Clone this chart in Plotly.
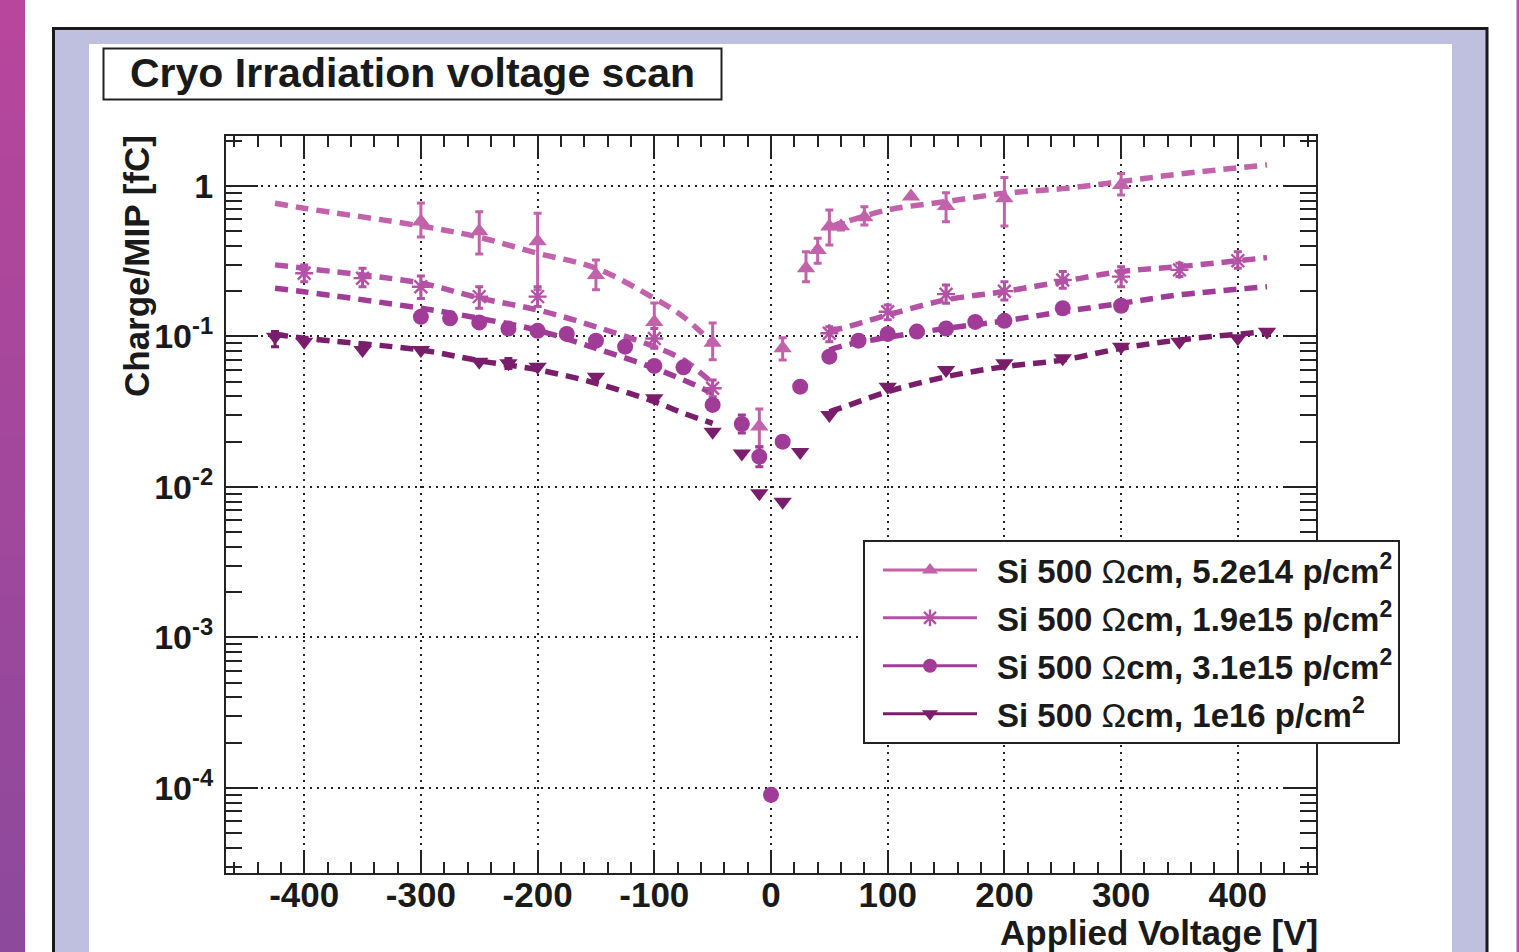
import plotly.graph_objects as go

# ---------------- data ----------------
OMEGA = '<span style="font-weight:normal">\u03a9</span>'
names = ["Si 500 %scm, 5.2e14 p/cm<sup>2</sup>" % OMEGA,
         "Si 500 %scm, 1.9e15 p/cm<sup>2</sup>" % OMEGA,
         "Si 500 %scm, 3.1e15 p/cm<sup>2</sup>" % OMEGA,
         "Si 500 %scm, 1e16 p/cm<sup>2</sup>" % OMEGA]
colors = ["#c262aa", "#b452a6", "#a03c98", "#7a1d6b"]
symbols = ["triangle-up", "asterisk-open", "circle", "triangle-down"]

x1 = [-300, -250, -200, -150, -100, -50, -10, 10, 30, 40, 50, 60, 80, 120, 150, 200, 300]
y1 = [0.58, 0.50, 0.43, 0.256, 0.125, 0.091, 0.0252, 0.0834, 0.284, 0.376, 0.537, 0.54, 0.62, 0.85, 0.736, 0.83, 1.015]
e1p = [0.19, 0.175, 0.229, 0.066, 0.042, 0.032, 0.0078, 0.0146, 0.082, 0.074, 0.156, 0.03, 0.108, 0.0, 0.167, 0.31, 0.195]
e1m = [0.122, 0.147, 0.226, 0.052, 0.0395, 0.021, 0.0068, 0.0136, 0.053, 0.069, 0.131, 0.03, 0.069, 0.0, 0.157, 0.288, 0.144]

x2 = [-400, -350, -300, -250, -200, -100, -50, 50, 100, 150, 200, 250, 300, 350, 400]
y2 = [0.263, 0.244, 0.214, 0.184, 0.184, 0.097, 0.0453, 0.105, 0.146, 0.191, 0.200, 0.237, 0.250, 0.277, 0.319]
e2p = [0.036, 0.040, 0.038, 0.030, 0.030, 0.016, 0.0061, 0.011, 0.016, 0.029, 0.031, 0.033, 0.041, 0.029, 0.047]
e2m = [0.032, 0.030, 0.035, 0.030, 0.026, 0.0136, 0.0055, 0.0127, 0.017, 0.025, 0.025, 0.028, 0.036, 0.027, 0.035]

x3 = [-300, -275, -250, -225, -200, -175, -150, -125, -100, -75, -50, -25, -10, 0, 10, 25,
      50, 75, 100, 125, 150, 175, 200, 250, 300]
y3 = [0.135, 0.132, 0.124, 0.113, 0.109, 0.104, 0.0938, 0.0856, 0.0637, 0.0624, 0.0351, 0.0262, 0.0159, 9e-5, 0.020, 0.0464,
      0.0734, 0.0938, 0.104, 0.1077, 0.113, 0.125, 0.127, 0.154, 0.160]
e3p = [0.01, 0, 0, 0.006, 0, 0, 0.006, 0, 0, 0, 0, 0.0039, 0.0026, 0, 0, 0,
       0, 0, 0, 0, 0, 0, 0, 0, 0]
e3m = [0.0, 0, 0, 0.005, 0, 0, 0.005, 0, 0, 0, 0, 0.0034, 0.0023, 0, 0, 0,
       0, 0, 0, 0, 0, 0, 0, 0, 0]

x4 = [-425, -400, -350, -300, -250, -225, -200, -150, -100, -50, -25, -10, 10, 25,
      50, 100, 150, 200, 250, 300, 350, 400, 425]
y4 = [0.0997, 0.0923, 0.0813, 0.0813, 0.068, 0.0663, 0.063, 0.054, 0.0388, 0.0233, 0.0167, 0.00908, 0.00798, 0.0171,
      0.0301, 0.0464, 0.0599, 0.0664, 0.0716, 0.0855, 0.0923, 0.0973, 0.1076]
e4p = [0.008, 0, 0, 0, 0, 0.005, 0, 0, 0, 0, 0, 0, 0, 0,
       0, 0, 0, 0, 0, 0, 0, 0, 0]
e4m = [0.0142, 0, 0, 0, 0, 0.005, 0, 0, 0, 0, 0, 0, 0, 0,
       0, 0, 0, 0, 0, 0, 0, 0, 0]

# fitted curves
fit_xL = [-425, -400, -300, -250, -200, -150, -100, -75, -50]
fit_xR = [50, 60, 100, 150, 200, 250, 300, 350, 425]
fit1L = [0.767, 0.711, 0.542, 0.456, 0.357, 0.284, 0.179, 0.135, 0.090]
fit1R = [0.537, 0.565, 0.693, 0.787, 0.894, 0.96, 1.07, 1.2, 1.38]
fit2L = [0.299, 0.284, 0.226, 0.180, 0.150, 0.116, 0.0855, 0.0698, 0.0489]
fit2R = [0.110, 0.113, 0.139, 0.175, 0.199, 0.232, 0.27, 0.291, 0.334]
fit3L = [0.209, 0.198, 0.154, 0.132, 0.110, 0.0834, 0.0615, 0.0514, 0.042]
fit3R = [0.0813, 0.086, 0.0988, 0.113, 0.127, 0.146, 0.166, 0.189, 0.214]
fit4L = [0.1035, 0.0973, 0.0813, 0.0690, 0.0601, 0.0489, 0.0369, 0.0309, 0.0265]
fit4R = [0.0316, 0.0335, 0.043, 0.054, 0.063, 0.0698, 0.0834, 0.0948, 0.1076]

x_tickvals = [-400, -300, -200, -100, 0, 100, 200, 300, 400]
x_ticktext = ["-400", "-300", "-200", "-100", "0", "100", "200", "300", "400"]
y_tickvals = [1e-4, 1e-3, 1e-2, 1e-1, 1]
y_ticktext = ["10<sup>-4</sup>", "10<sup>-3</sup>", "10<sup>-2</sup>", "10<sup>-1</sup>", "1"]

title_text = "Cryo Irradiation voltage scan"
x_title = "Applied Voltage [V]"
y_title = "Charge/MIP [fC]"

# ---------------- figure ----------------
W, H = 1520, 952
L, R, T, B = 226, 204, 136, 79
PW, PH = W - L - R, H - T - B


def px(p):
    return (p - L) / PW


def py(p):
    return (H - B - p) / PH


FONT = "Liberation Sans, Arial, sans-serif"
TXT = "#1a1a1a"

fig = go.Figure()

series = [
    (x1, y1, e1p, e1m, fit1L, fit1R, 16, 0),
    (x2, y2, e2p, e2m, fit2L, fit2R, 15, 2.4),
    (x3, y3, e3p, e3m, fit3L, fit3R, 16, 0),
    (x4, y4, e4p, e4m, fit4L, fit4R, 16, 0),
]

for i, (xs, ys, ep, em, fl, fr, msize, mlw) in enumerate(series):
    c = colors[i]
    for fx, fy in ((fit_xL, fl), (fit_xR, fr)):
        fig.add_trace(go.Scatter(x=fx, y=fy, mode="lines", showlegend=False, hoverinfo="skip",
                                 line=dict(color=c, width=5.5, dash="13px,8px", shape="spline")))
for i, (xs, ys, ep, em, fl, fr, msize, mlw) in enumerate(series):
    c = colors[i]
    fig.add_trace(go.Scatter(
        x=xs, y=ys, mode="markers", showlegend=False,
        marker=dict(symbol=symbols[i], size=msize, color=c,
                    line=dict(color=c, width=mlw)),
        error_y=dict(type="data", symmetric=False, array=ep, arrayminus=em,
                     color=c, thickness=3, width=4)))
for i, (xs, ys, ep, em, fl, fr, msize, mlw) in enumerate(series):
    c = colors[i]
    fig.add_trace(go.Scatter(
        x=[None], y=[None], mode="lines+markers", name=names[i], legendgroup=str(i),
        line=dict(color=c, width=3),
        marker=dict(symbol=symbols[i], size=14, color=c, line=dict(color=c, width=mlw))))

# decorative frame
shapes = []
n_strip = 24
top_c = (0xb8, 0x46, 0x9c)
bot_c = (0x8d, 0x4a, 0x9c)
for k in range(n_strip):
    f = k / (n_strip - 1)
    col = "rgb(%d,%d,%d)" % tuple(int(top_c[j] + (bot_c[j] - top_c[j]) * f) for j in range(3))
    y0 = H * k / n_strip
    y1s = H * (k + 1) / n_strip + 1
    shapes.append(dict(type="rect", xref="paper", yref="paper", layer="below",
                       x0=px(-2), x1=px(25), y0=py(y0 - (2 if k == 0 else 0)), y1=py(y1s),
                       fillcolor=col, line=dict(width=0)))
shapes.append(dict(type="rect", xref="paper", yref="paper", layer="below",
                   x0=px(1516.5), x1=px(1519), y0=py(-2), y1=py(H + 2),
                   fillcolor="#c04ca8", line=dict(width=0)))
shapes.append(dict(type="rect", xref="paper", yref="paper", layer="below",
                   x0=px(53.5), x1=px(1487), y0=py(28.5), y1=py(H + 20),
                   fillcolor="#bfc0df", line=dict(color="#1a1a1a", width=3)))
shapes.append(dict(type="rect", xref="paper", yref="paper", layer="below",
                   x0=px(89), x1=px(1452), y0=py(44), y1=py(H + 20),
                   fillcolor="white", line=dict(width=0)))
shapes.append(dict(type="rect", xref="paper", yref="paper", layer="below",
                   x0=px(103.5), x1=px(721.5), y0=py(48.5), y1=py(99.5),
                   fillcolor="white", line=dict(color="#222", width=2)))

annotations = [
    dict(text="<b>%s</b>" % title_text, xref="paper", yref="paper", x=px(412), y=py(73),
         xanchor="center", yanchor="middle", showarrow=False,
         font=dict(family=FONT, size=41, color=TXT)),
    dict(text="<b>%s</b>" % x_title, xref="paper", yref="paper", x=px(1320), y=py(932),
         xanchor="right", yanchor="middle", showarrow=False,
         font=dict(family=FONT, size=35, color=TXT)),
    dict(text="<b>%s</b>" % y_title, xref="paper", yref="paper", x=px(136), y=py(266),
         xanchor="center", yanchor="middle", showarrow=False, textangle=-90,
         font=dict(family=FONT, size=35, color=TXT)),
]

minor_y = [k * 10.0 ** n for n in range(-5, 1) for k in range(2, 10)]

fig.update_layout(
    width=W, height=H,
    margin=dict(l=L, r=R, t=T, b=B),
    paper_bgcolor="white", plot_bgcolor="white",
    shapes=shapes, annotations=annotations,
    showlegend=True,
    legend=dict(x=px(863), y=py(540), xanchor="left", yanchor="top",
                bgcolor="white", bordercolor="#222", borderwidth=2,
                font=dict(family=FONT, size=33, color=TXT, weight="bold"),
                tracegroupgap=2, itemwidth=122),
    xaxis=dict(range=[-467, 467], tickvals=x_tickvals, ticktext=x_ticktext,
               ticks="inside", ticklen=22, tickwidth=2,
               tickcolor="#222", showline=True, linecolor="#222", linewidth=2, mirror="ticks",
               showgrid=True, gridcolor="#222", gridwidth=2, griddash="2px,5px", zeroline=False,
               tickfont=dict(family=FONT, size=35, color=TXT, weight="bold"),
               ticklabelstandoff=-10,
               minor=dict(dtick=20, tick0=0, ticks="inside", ticklen=11, tickwidth=2,
                          tickcolor="#222", showgrid=False)),
    yaxis=dict(type="log", range=[-4.565, 0.332], tickvals=y_tickvals, ticktext=y_ticktext,
               ticks="inside", ticklen=32, tickwidth=2, tickcolor="#222",
               showline=True, linecolor="#222", linewidth=2, mirror="ticks",
               showgrid=True, gridcolor="#222", gridwidth=2, griddash="2px,5px", zeroline=False,
               tickfont=dict(family=FONT, size=34, color=TXT, weight="bold"),
               ticklabelstandoff=4,
               minor=dict(tickvals=minor_y, ticks="inside", ticklen=16, tickwidth=2,
                          tickcolor="#222", showgrid=False)),
)

post = """
document.body.style.margin = '0px';
document.querySelectorAll('.legend .traces').forEach(function (t) {
  t.querySelectorAll('path.js-line').forEach(function (p) { p.setAttribute('d', 'M18,0h94'); });
  t.querySelectorAll('.legendpoints path').forEach(function (p) { p.setAttribute('transform', 'translate(65,0)'); });
});
"""

fig.write_html("out.html", post_script=post, config={"displayModeBar": False})
